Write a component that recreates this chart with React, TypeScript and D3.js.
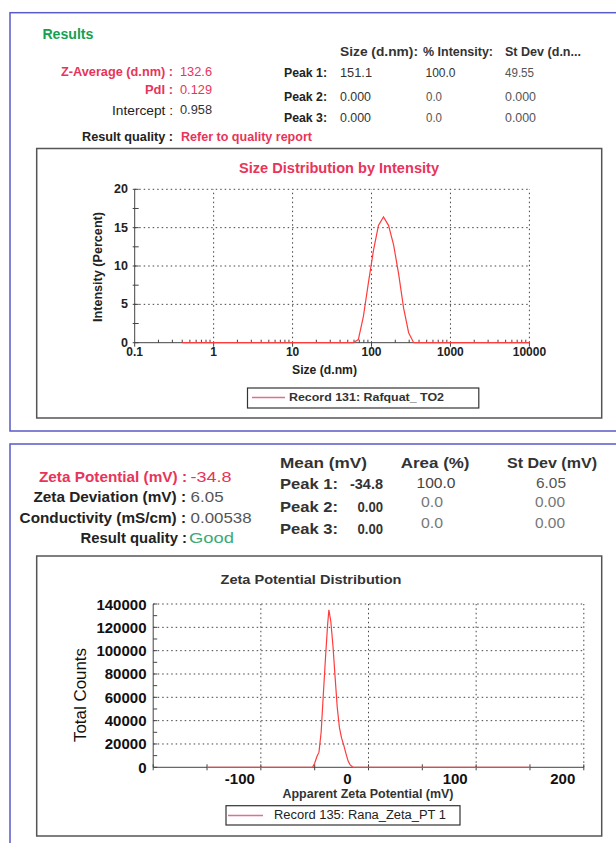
import React from "react";
import * as d3 from "d3";

// ---------- data ----------
const sizeNm = [0.4, 58.77, 68.06, 78.82, 91.28, 105.7, 122.4, 141.8, 164.2, 190.1, 220.2, 255.0, 295.3, 342.0, 10000];
const intensityPct = [0, 0, 0.4, 3.4, 7.8, 12.0, 15.3, 16.4, 15.3, 12.8, 9.0, 4.5, 1.3, 0, 0];
const sizeTicks = [0.1, 1, 10, 100, 1000, 10000];
const sizeTickLabels = ["0.1", "1", "10", "100", "1000", "10000"];
const intensityTicks = [0, 5, 10, 15, 20];

const zetaMv = [-150, -52, -50, -48, -46, -44, -42, -40, -38, -36.8, -35, -33, -31, -29, -27, -25, -23, -21, -19, -17, -15, -13.8, 150];
const zetaCounts = [0, 0, 3500, 9000, 13000, 30000, 62000, 93000, 122000, 135000, 125000, 104000, 77000, 51000, 34000, 25000, 19000, 12000, 5500, 2000, 500, 0, 0];
const zetaTicks = [-100, 0, 100, 200];
const countTicks = [0, 20000, 40000, 60000, 80000, 100000, 120000, 140000];

const FONT = "'Liberation Sans', Arial, Helvetica, sans-serif";
const RED = "#e8345a";
const LINE_RED = "#ff3c3c";

function T(props: any) {
  const { x, y, children, size = 12, weight = "normal", fill = "#222", anchor = "start", w, rotate, family } = props;
  return (
    <text
      x={x}
      y={y}
      fontSize={size}
      fontWeight={weight}
      fill={fill}
      textAnchor={anchor}
      dominantBaseline="central"
      fontFamily={family || FONT}
      textLength={w}
      lengthAdjust={w ? "spacingAndGlyphs" : undefined}
      transform={rotate ? `rotate(${rotate} ${x} ${y})` : undefined}
    >
      {children}
    </text>
  );
}

export default function App() {
  // top chart scales
  const xS = d3.scaleLog().domain([0.1, 10000]).range([134.7, 529.4]);
  const yS = d3.scaleLinear().domain([0, 20]).range([342.7, 189.3]);
  const sizeLine = d3
    .line<number>()
    .x((_, i) => xS(sizeNm[i]))
    .y((d) => yS(d));

  // zeta chart scales
  const xZ = d3.scaleLinear().domain([-200, 200]).range([153.2, 583.8]);
  const yZ = d3.scaleLinear().domain([0, 140000]).range([767.3, 604]);
  const zetaLine = d3
    .line<number>()
    .x((_, i) => xZ(zetaMv[i]))
    .y((d) => yZ(d));

  const [x0, x1] = xS.range();
  const [y0, y1] = yS.range();
  const [zx0, zx1] = xZ.range();
  const [zy0, zy1] = yZ.range();

  const minorSize: number[] = [];
  for (let e = -1; e < 4; e++) for (let m = 2; m <= 9; m++) minorSize.push(m * Math.pow(10, e));
  const minorInt = d3.range(0, 20.01, 2.5);
  const minorZx = d3.range(-200, 200.01, 50);
  const minorZy = d3.range(0, 140001, 10000);

  const dot = "1.5 3";

  return (
    <div style={{ position: "absolute", left: 0, top: 0 }}>
      <svg width={616} height={843} style={{ display: "block", background: "#fff" }}>
        {/* panels */}
        <rect x={10} y={12.7} width={640} height={418.3} fill="none" stroke="#5a5ac8" strokeWidth={1.5} />
        <rect x={10} y={444} width={640} height={440} fill="none" stroke="#5a5ac8" strokeWidth={1.5} />

        {/* ---------- top header ---------- */}
        <T x={42.4} y={34.3} size={14} weight="bold" fill="#14a050" w={51}>Results</T>
        <T x={340} y={52.3} size={12} weight="bold" fill="#333" w={78}>Size (d.nm):</T>
        <T x={423} y={52.3} size={12} weight="bold" fill="#333" w={70}>% Intensity:</T>
        <T x={505} y={52.3} size={12} weight="bold" fill="#333" w={76}>St Dev (d.n...</T>

        <T x={173} y={72} size={12.5} weight="bold" fill={RED} anchor="end" w={112}>Z-Average (d.nm) :</T>
        <T x={180} y={72} size={12.5} fill={RED} w={32}>132.6</T>
        <T x={173} y={90} size={12.5} weight="bold" fill={RED} anchor="end" w={28}>PdI :</T>
        <T x={180} y={90} size={12.5} fill={RED} w={32}>0.129</T>
        <T x={173} y={110} size={13} fill="#222" anchor="end" w={61}>Intercept :</T>
        <T x={180} y={110} size={12.5} fill="#333" w={32}>0.958</T>
        <T x={173} y={137} size={12.5} weight="bold" fill="#222" anchor="end" w={91}>Result quality :</T>
        <T x={181} y={137} size={12.5} weight="bold" fill={RED} w={131}>Refer to quality report</T>

        <T x={284} y={73} size={12.5} weight="bold" fill="#222" w={43}>Peak 1:</T>
        <T x={284} y={96.7} size={12.5} weight="bold" fill="#222" w={43}>Peak 2:</T>
        <T x={284} y={118.3} size={12.5} weight="bold" fill="#222" w={43}>Peak 3:</T>
        <T x={340} y={73} size={12.5} fill="#333" w={32}>151.1</T>
        <T x={425.5} y={73} size={12.5} fill="#333" w={30}>100.0</T>
        <T x={505} y={73} size={12.5} fill="#555" w={29}>49.55</T>
        <T x={340} y={96.7} size={12.5} fill="#333" w={31}>0.000</T>
        <T x={426} y={96.7} size={12.5} fill="#555" w={16}>0.0</T>
        <T x={505} y={96.7} size={12.5} fill="#555" w={31}>0.000</T>
        <T x={340} y={118.3} size={12.5} fill="#333" w={31}>0.000</T>
        <T x={426} y={118.3} size={12.5} fill="#555" w={16}>0.0</T>
        <T x={505} y={118.3} size={12.5} fill="#555" w={31}>0.000</T>

        {/* ---------- top chart ---------- */}
        <rect x={36.7} y={148.5} width={565} height={269.5} fill="none" stroke="#555" strokeWidth={1.5} />
        <T x={339} y={168} size={14} weight="bold" fill={RED} anchor="middle" w={200}>Size Distribution by Intensity</T>

        {/* grid */}
        {sizeTicks.slice(1).map((t) => (
          <line key={"gx" + t} x1={xS(t)} x2={xS(t)} y1={y0} y2={y1} stroke="#444" strokeDasharray={dot} />
        ))}
        {intensityTicks.slice(1).map((t) => (
          <line key={"gy" + t} x1={x0} x2={x1} y1={yS(t)} y2={yS(t)} stroke="#444" strokeDasharray={dot} />
        ))}
        {/* axes */}
        <line x1={x0} x2={x0} y1={y0} y2={y1} stroke="#444" strokeWidth={1} />
        <line x1={x0} x2={x1} y1={y0} y2={y0} stroke="#444" strokeWidth={1} />
        {minorInt.map((t) => (
          <line key={"my" + t} x1={x0 - 2} x2={x0 + 4} y1={yS(t)} y2={yS(t)} stroke="#444" />
        ))}
        {minorSize.map((t) => (
          <line key={"mx" + t} x1={xS(t)} x2={xS(t)} y1={y0} y2={y0 - 3} stroke="#444" />
        ))}
        {sizeTicks.map((t) => (
          <line key={"tx" + t} x1={xS(t)} x2={xS(t)} y1={y0} y2={y0 + 4} stroke="#444" />
        ))}
        {intensityTicks.map((t) => (
          <T key={"ly" + t} x={128} y={yS(t)} size={12.5} weight="bold" fill="#222" anchor="end">{t}</T>
        ))}
        {sizeTicks.map((t, i) => (
          <T key={"lx" + t} x={xS(t)} y={352.3} size={12} weight="bold" fill="#222" anchor="middle">{sizeTickLabels[i]}</T>
        ))}
        <path d={sizeLine(intensityPct) || ""} fill="none" stroke={LINE_RED} strokeWidth={1.2} />
        <T x={324.5} y={370} size={12} weight="bold" fill="#222" anchor="middle" w={65}>Size (d.nm)</T>
        <T x={98.4} y={267} size={12} weight="bold" fill="#222" anchor="middle" rotate={-90} w={110}>Intensity (Percent)</T>

        {/* legend */}
        <rect x={247.5} y={388} width={231.3} height={20} fill="#fff" stroke="#333" strokeWidth={1.2} />
        <line x1={252} x2={285} y1={397.5} y2={397.5} stroke="#e07090" strokeWidth={1.5} />
        <T x={289} y={397} size={11.5} weight="bold" fill="#333" w={155}>Record 131: Rafquat_ TO2</T>

        {/* ---------- bottom header ---------- */}
        <T x={187} y={476.7} size={15.5} weight="bold" fill={RED} anchor="end" w={148}>Zeta Potential (mV) :</T>
        <T x={190.6} y={476.7} size={15} fill={RED} w={41}>-34.8</T>
        <T x={186} y={496.7} size={15} weight="bold" fill="#222" anchor="end" w={152.6}>Zeta Deviation (mV) :</T>
        <T x={190.6} y={496.7} size={15} fill="#555" w={33}>6.05</T>
        <T x={186} y={517.3} size={15} weight="bold" fill="#222" anchor="end" w={166.4}>Conductivity (mS/cm) :</T>
        <T x={190.6} y={517.3} size={15} fill="#555" w={61}>0.00538</T>
        <T x={187} y={537.3} size={15} weight="bold" fill="#222" anchor="end" w={106.5}>Result quality :</T>
        <T x={189} y={537.3} size={15} fill="#3aaa78" w={45}>Good</T>

        <T x={280} y={463.3} size={14} weight="bold" fill="#333" w={87}>Mean (mV)</T>
        <T x={400.8} y={463.3} size={14} weight="bold" fill="#333" w={68.7}>Area (%)</T>
        <T x={507} y={463.3} size={14} weight="bold" fill="#333" w={90}>St Dev (mV)</T>
        <T x={280} y={484} size={14} weight="bold" fill="#333" w={58}>Peak 1:</T>
        <T x={383} y={484} size={14} weight="bold" fill="#333" anchor="end" w={33}>-34.8</T>
        <T x={436} y={483} size={14} fill="#444" anchor="middle" w={39}>100.0</T>
        <T x={551} y={483} size={14} fill="#555" anchor="middle" w={30}>6.05</T>
        <T x={280} y={506.7} size={14} weight="bold" fill="#333" w={58}>Peak 2:</T>
        <T x={383} y={506.7} size={14} weight="bold" fill="#333" anchor="end" w={25.5}>0.00</T>
        <T x={432} y={501.7} size={14} fill="#777" anchor="middle" w={22}>0.0</T>
        <T x={550} y={502} size={14} fill="#777" anchor="middle" w={30}>0.00</T>
        <T x={280} y={529.3} size={14} weight="bold" fill="#333" w={58}>Peak 3:</T>
        <T x={383} y={529.3} size={14} weight="bold" fill="#333" anchor="end" w={25.5}>0.00</T>
        <T x={432} y={523.3} size={14} fill="#777" anchor="middle" w={22}>0.0</T>
        <T x={550} y={523.3} size={14} fill="#777" anchor="middle" w={30}>0.00</T>

        {/* ---------- bottom chart ---------- */}
        <rect x={36.7} y={556} width={565} height={280} fill="none" stroke="#555" strokeWidth={1.5} />
        <T x={311} y={579} size={13} weight="bold" fill="#333" anchor="middle" w={181}>Zeta Potential Distribution</T>

        {zetaTicks.map((t) => (
          <line key={"zgx" + t} x1={xZ(t)} x2={xZ(t)} y1={zy0} y2={zy1} stroke="#444" strokeDasharray={dot} />
        ))}
        {countTicks.slice(1).map((t) => (
          <line key={"zgy" + t} x1={zx0} x2={zx1} y1={yZ(t)} y2={yZ(t)} stroke="#444" strokeDasharray={dot} />
        ))}
        <line x1={zx0} x2={zx0} y1={zy0} y2={zy1} stroke="#444" />
        <line x1={zx0} x2={zx1} y1={zy0} y2={zy0} stroke="#444" />
        {minorZy.map((t) => (
          <line key={"zmy" + t} x1={zx0} x2={zx0 + 4} y1={yZ(t)} y2={yZ(t)} stroke="#444" />
        ))}
        {minorZx.map((t) => (
          <line key={"zmx" + t} x1={xZ(t)} x2={xZ(t)} y1={zy0 - 3} y2={zy0 + 3} stroke="#444" />
        ))}
        {countTicks.map((t) => (
          <T key={"zly" + t} x={146.5} y={yZ(t)} size={15} weight="bold" fill="#111" anchor="end">{t}</T>
        ))}
        {zetaTicks.map((t) => (
          <T key={"zlx" + t} x={xZ(t) - 21} y={778} size={15} weight="bold" fill="#111" anchor="middle">{t}</T>
        ))}
        <path d={zetaLine(zetaCounts) || ""} fill="none" stroke={LINE_RED} strokeWidth={1.2} />
        <T x={368} y={794} size={12} weight="bold" fill="#333" anchor="middle" w={171}>Apparent Zeta Potential (mV)</T>
        <T x={80} y={695} size={17} fill="#111" anchor="middle" rotate={-90} w={94}>Total Counts</T>

        <rect x={226} y={805.7} width={234} height={19.3} fill="#fff" stroke="#333" strokeWidth={1.2} />
        <line x1={228} x2={263} y1={815.5} y2={815.5} stroke="#e07090" strokeWidth={1.5} />
        <T x={274} y={815} size={12.5} fill="#222" w={172}>Record 135: Rana_Zeta_PT 1</T>
      </svg>
    </div>
  );
}
